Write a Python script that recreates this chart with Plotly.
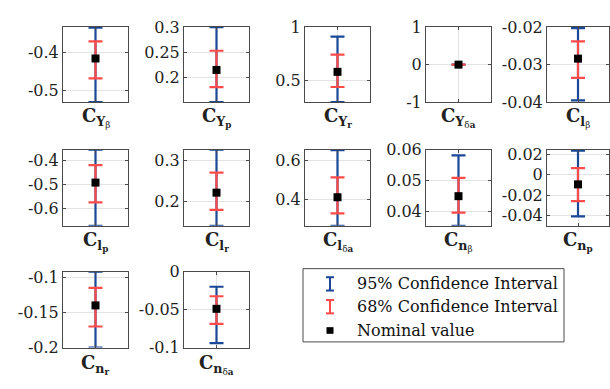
import plotly.graph_objects as go

W, H = 610, 389

# ---- data ----
labels = [
    "<b>C</b><sub><b>Y</b><sub>β</sub></sub>",
    "<b>C</b><sub><b>Y</b><sub><b>p</b></sub></sub>",
    "<b>C</b><sub><b>Y</b><sub><b>r</b></sub></sub>",
    "<b>C</b><sub><b>Y</b><sub>δ<b>a</b></sub></sub>",
    "<b>C</b><sub><b>l</b><sub>β</sub></sub>",
    "<b>C</b><sub><b>l</b><sub><b>p</b></sub></sub>",
    "<b>C</b><sub><b>l</b><sub><b>r</b></sub></sub>",
    "<b>C</b><sub><b>l</b><sub>δ<b>a</b></sub></sub>",
    "<b>C</b><sub><b>n</b><sub>β</sub></sub>",
    "<b>C</b><sub><b>n</b><sub><b>p</b></sub></sub>",
    "<b>C</b><sub><b>n</b><sub><b>r</b></sub></sub>",
    "<b>C</b><sub><b>n</b><sub>δ<b>a</b></sub></sub>",
]
nominal = [-0.415, 0.215, 0.58, 0.0, -0.0284, -0.492, 0.221, 0.41, 0.045, -0.0094, -0.14, -0.049]
ci95_lo = [-0.530, 0.151, 0.295, 0.0, -0.0395, -0.670, 0.140, 0.263, 0.0354, -0.041, -0.200, -0.094]
ci95_hi = [-0.334, 0.300, 0.910, 0.0, -0.0203, -0.357, 0.3256, 0.652, 0.0582, 0.0238, -0.092, -0.020]
ci68_lo = [-0.4675, 0.181, 0.4375, 0.0, -0.0335, -0.573, 0.179, 0.327, 0.0397, -0.026, -0.170, -0.0687]
ci68_hi = [-0.370, 0.253, 0.741, 0.0, -0.0238, -0.420, 0.270, 0.512, 0.0509, 0.0066, -0.115, -0.0325]
y_ranges = [[-0.53, -0.3325], [0.151, 0.30], [0.295, 1.0], [-1, 1], [-0.04, -0.02],
            [-0.67, -0.357], [0.14, 0.3256], [0.263, 0.654], [0.0354, 0.06], [-0.0503, 0.0247],
            [-0.20, -0.0918], [-0.10, 0.0]]
tick_vals = [[-0.5, -0.4], [0.2, 0.25, 0.3], [0.5, 1], [-1, 0, 1], [-0.04, -0.03, -0.02],
             [-0.6, -0.5, -0.4], [0.2, 0.3], [0.4, 0.6], [0.04, 0.05, 0.06], [-0.04, -0.02, 0, 0.02],
             [-0.2, -0.15, -0.1], [-0.1, -0.05, 0]]
tick_text = [["-0.5", "-0.4"], ["0.2", "0.25", "0.3"], ["0.5", "1"], ["-1", "0", "1"],
             ["-0.04", "-0.03", "-0.02"], ["-0.6", "-0.5", "-0.4"], ["0.2", "0.3"], ["0.4", "0.6"],
             ["0.04", "0.05", "0.06"], ["-0.04", "-0.02", "0", "0.02"], ["-0.2", "-0.15", "-0.1"],
             ["-0.1", "-0.05", "0"]]
legend_labels = ["95% Confidence Interval", "68% Confidence Interval", "Nominal value"]

# ---- layout geometry (pixels) ----
col_px = [(63, 128), (184, 249), (305, 370), (426, 491), (547, 609)]
row_px = [(19, 98), (148, 228), (276, 356)]
label_y = [114, 244, 374]

BLUE = "#1a4796"
RED = "#ff4a4a"
BOX = "#4a4a4a"
GRID = "#e3e3e3"
FONT = "DejaVu Serif"

fig = go.Figure()
annotations = []
for i in range(12):
    r, c = divmod(i, 5)
    k = "" if i == 0 else str(i + 1)
    xa, ya = "x" + k, "y" + k
    x0, x1 = col_px[c]
    y0, y1 = row_px[r]
    fig.add_trace(go.Scatter(
        x=[1], y=[nominal[i]], mode="markers", xaxis=xa, yaxis=ya,
        marker=dict(color="rgba(0,0,0,0)", size=1),
        error_y=dict(type="data", symmetric=False,
                     array=[ci95_hi[i] - nominal[i]], arrayminus=[nominal[i] - ci95_lo[i]],
                     color=BLUE, thickness=2.2, width=7),
        cliponaxis=False, showlegend=False, hoverinfo="skip"))
    fig.add_trace(go.Scatter(
        x=[1], y=[nominal[i]], mode="markers", xaxis=xa, yaxis=ya,
        marker=dict(color="rgba(0,0,0,0)", size=1),
        error_y=dict(type="data", symmetric=False,
                     array=[ci68_hi[i] - nominal[i]], arrayminus=[nominal[i] - ci68_lo[i]],
                     color=RED, thickness=2.2, width=7),
        cliponaxis=False, showlegend=False, hoverinfo="skip"))
    fig.add_trace(go.Scatter(
        x=[1], y=[nominal[i]], mode="markers", xaxis=xa, yaxis=ya,
        marker=dict(color="black", symbol="square", size=8),
        cliponaxis=False, showlegend=False))
    lay_x = "xaxis" + k
    lay_y = "yaxis" + k
    fig.layout[lay_x] = dict(domain=[x0 / W, x1 / W], range=[0.5, 1.5], anchor=ya,
                             tickvals=[1], showticklabels=False, ticks="inside", ticklen=3,
                             tickcolor=BOX, showgrid=True, gridcolor=GRID, gridwidth=1,
                             showline=True, linecolor=BOX, linewidth=1, mirror="ticks",
                             zeroline=False, fixedrange=True)
    fig.layout[lay_y] = dict(domain=[1 - y1 / H, 1 - y0 / H], range=y_ranges[i], anchor=xa,
                             tickvals=tick_vals[i], ticktext=tick_text[i], ticks="inside",
                             ticklen=3, tickcolor=BOX, showgrid=True, gridcolor=GRID,
                             gridwidth=1, showline=True, linecolor=BOX, linewidth=1,
                             mirror="ticks", zeroline=False, fixedrange=True,
                             tickfont=dict(family=FONT, size=16, color="#222"))
    annotations.append(dict(x=(x0 + x1) / 2 / W, y=1 - label_y[r] / H, xref="paper", yref="paper",
                            text=labels[i], showarrow=False, xanchor="center", yanchor="middle",
                            font=dict(family=FONT, size=18, color="#222")))

# ---- legend (drawn manually) ----
lx0, lx1, ly0, ly1 = 303, 564, 273, 350
shapes = [dict(type="rect", xref="paper", yref="paper", x0=lx0 / W, x1=lx1 / W,
               y0=1 - ly1 / H, y1=1 - ly0 / H, line=dict(color=BOX, width=1),
               fillcolor="white", layer="below")]
entry_y = [289, 313, 338]
icon_x = 330
for j, col in enumerate([BLUE, RED]):
    yc = entry_y[j]
    shapes.append(dict(type="line", xref="paper", yref="paper", x0=icon_x / W, x1=icon_x / W,
                       y0=1 - (yc + 7) / H, y1=1 - (yc - 7) / H, line=dict(color=col, width=2)))
    for yy in (yc - 7, yc + 7):
        shapes.append(dict(type="line", xref="paper", yref="paper", x0=(icon_x - 4) / W,
                           x1=(icon_x + 4) / W, y0=1 - yy / H, y1=1 - yy / H,
                           line=dict(color=col, width=2)))
shapes.append(dict(type="rect", xref="paper", yref="paper", x0=(icon_x - 3.5) / W,
                   x1=(icon_x + 3.5) / W, y0=1 - (entry_y[2] + 3.5) / H,
                   y1=1 - (entry_y[2] - 3.5) / H, line=dict(width=0), fillcolor="black"))
for j, t in enumerate(legend_labels):
    annotations.append(dict(x=355 / W, y=1 - entry_y[j] / H, xref="paper", yref="paper",
                            text=t, showarrow=False, xanchor="left", yanchor="middle",
                            font=dict(family=FONT, size=16, color="#111")))

fig.update_layout(width=W, height=H, margin=dict(l=0, r=0, t=0, b=0),
                  paper_bgcolor="white", plot_bgcolor="white",
                  font=dict(family=FONT),
                  annotations=annotations, shapes=shapes, showlegend=False)
fig.write_html("out.html")
